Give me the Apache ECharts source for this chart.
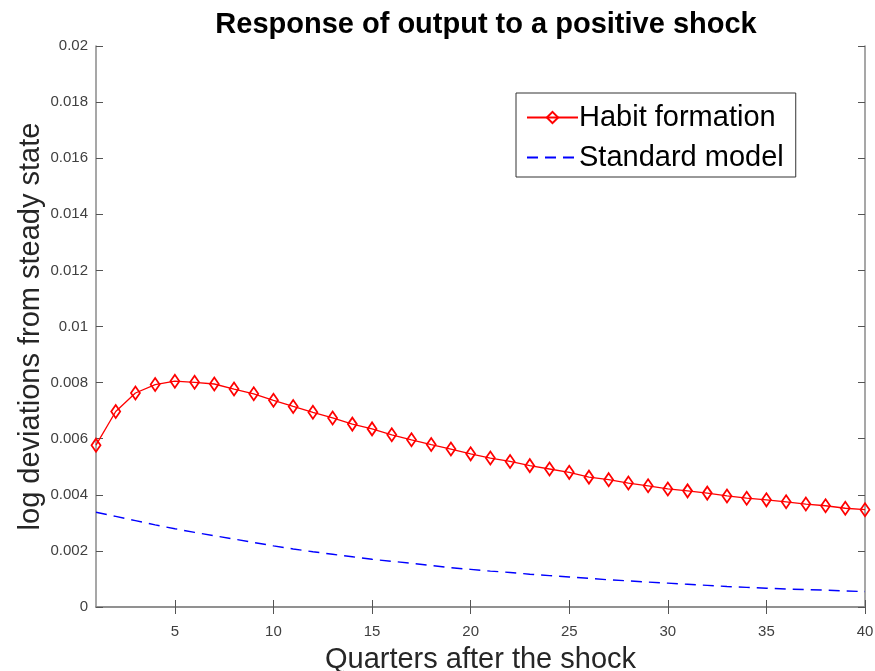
<!DOCTYPE html>
<html>
<head>
<meta charset="utf-8">
<script src="https://cdn.jsdelivr.net/npm/echarts@6/dist/echarts.min.js"></script>
<style>html,body{margin:0;padding:0;background:#fff}#c{width:875px;height:671px}</style>
</head>
<body>
<div id="c"></div>
<script>
const quarters = [1,2,3,4,5,6,7,8,9,10,11,12,13,14,15,16,17,18,19,20,21,22,23,24,25,26,27,28,29,30,31,32,33,34,35,36,37,38,39,40];
const habitFormation = [0.00577,0.00697,0.00763,0.00793,0.00805,0.00801,0.00795,0.00777,0.00760,0.00737,
  0.00715,0.00694,0.00674,0.00652,0.00635,0.00614,0.00596,0.00579,0.00563,0.00546,
  0.00531,0.00519,0.00504,0.00492,0.00480,0.00463,0.00454,0.00442,0.00432,0.00421,
  0.00414,0.00406,0.00396,0.00388,0.00382,0.00375,0.00367,0.00361,0.00352,0.00347];
const standardModel = [0.00338,0.00323,0.00308,0.00293,0.00279,0.00266,0.00254,0.00242,0.00230,0.00218,
  0.00207,0.00197,0.00188,0.00179,0.00170,0.00163,0.00156,0.00148,0.00140,0.00134,
  0.00128,0.00123,0.00117,0.00112,0.00107,0.00102,0.00097,0.00093,0.00089,0.00085,
  0.00081,0.00077,0.00073,0.00070,0.00067,0.00064,0.00062,0.00060,0.00057,0.00055];
const xTicks = [5,10,15,20,25,30,35,40];
const yTickLabels = ['0','0.002','0.004','0.006','0.008','0.01','0.012','0.014','0.016','0.018','0.02'];

const FONT = 'Liberation Sans';
const axisGray = '#8a8a8a';
const labelGray = '#404040';

const chart = echarts.init(document.getElementById('c'));
const xBase = {
  type: 'value', min: 1, max: 40,
  axisLine: { show: true, lineStyle: { color: axisGray, width: 1.5 } },
  axisTick: { show: true, inside: true, length: 7, customValues: xTicks, lineStyle: { color: '#555', width: 1 } },
  splitLine: { show: false }
};
const yBase = {
  type: 'value', min: 0, max: 0.02, interval: 0.002,
  axisLine: { show: true, lineStyle: { color: axisGray, width: 1.5 } },
  axisTick: { show: true, inside: true, length: 7, lineStyle: { color: '#555', width: 1 } },
  splitLine: { show: false }
};
chart.setOption({
  animation: false,
  backgroundColor: '#fff',
  title: {
    text: 'Response of output to a positive shock',
    left: 481, top: 5, textAlign: 'center',
    textStyle: { fontFamily: FONT, fontSize: 29, fontWeight: 'bold', color: '#000' }
  },
  grid: { left: 96, right: 10, top: 46, bottom: 64, containLabel: false, outerBoundsMode: 'none' },
  legend: {
    left: 516, top: 93,
    orient: 'vertical',
    itemWidth: 51, itemHeight: 14, itemGap: 11,
    padding: [10, 12, 5, 10],
    backgroundColor: '#fff',
    borderColor: '#333', borderWidth: 1,
    textStyle: { fontFamily: FONT, fontSize: 29, color: '#000', padding: [0, 0, 0, -4] },
    data: [
      { name: 'Habit formation' },
      { name: 'Standard model', itemStyle: { color: 'rgba(0,0,0,0)', borderWidth: 0 } }
    ]
  },
  xAxis: [
    Object.assign({}, xBase, {
      position: 'bottom',
      name: 'Quarters after the shock', nameLocation: 'middle', nameGap: 38,
      nameMoveOverlap: false,
      nameTextStyle: { fontFamily: FONT, fontSize: 29, color: '#262626' },
      axisLabel: { show: true, customValues: xTicks, margin: 17, fontFamily: FONT, fontSize: 15, color: labelGray }
    }),
    Object.assign({}, xBase, { position: 'top', axisLabel: { show: false } })
  ],
  yAxis: [
    Object.assign({}, yBase, {
      position: 'left',
      name: 'log deviations from steady state', nameLocation: 'middle', nameGap: 51,
      nameMoveOverlap: false,
      nameTextStyle: { fontFamily: FONT, fontSize: 29, color: '#262626' },
      axisLabel: { show: true, margin: 8, fontFamily: FONT, fontSize: 15, color: labelGray,
        formatter: function (v) { return yTickLabels[Math.round(v / 0.002)]; } }
    }),
    Object.assign({}, yBase, { position: 'right', axisLabel: { show: false } })
  ],
  series: [
    {
      name: 'Habit formation', type: 'line',
      xAxisIndex: 0, yAxisIndex: 0,
      data: quarters.map((q, i) => [q, habitFormation[i]]),
      symbol: 'diamond', symbolSize: [9, 13], showAllSymbol: true,
      lineStyle: { color: '#ff0000', width: 1.3 },
      itemStyle: { color: 'rgba(255,255,255,0)', borderColor: '#ff0000', borderWidth: 1.8 },
      z: 3
    },
    {
      name: 'Standard model', type: 'line',
      xAxisIndex: 0, yAxisIndex: 0,
      data: quarters.map((q, i) => [q, standardModel[i]]),
      symbol: 'none',
      lineStyle: { color: '#0000ff', width: 1.4, type: [11, 7] },
      itemStyle: { color: '#0000ff' },
      z: 2
    }
  ]
});
</script>
</body>
</html>
